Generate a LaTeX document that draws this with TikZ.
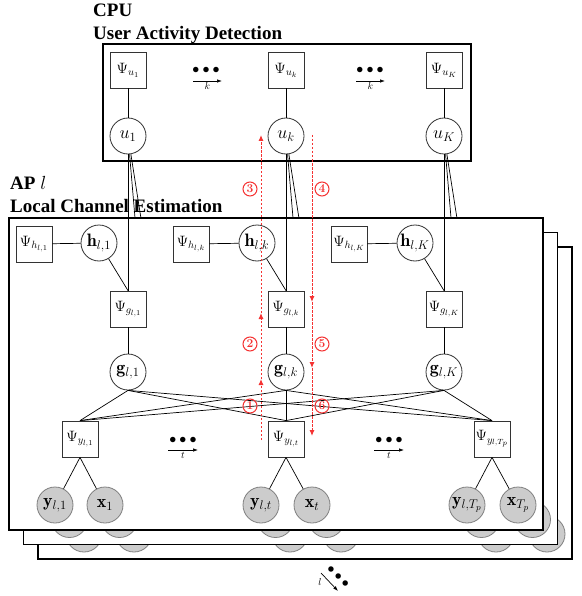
\RequirePackage{fix-cm}
\documentclass[tikz,border=0pt]{standalone}
\usepackage{amsmath}
\usepackage{amssymb}
\usepackage{fontspec}
\newfontfamily\headfont{Liberation Serif}
\usetikzlibrary{arrows.meta}
\definecolor{flowred}{RGB}{245,50,50}

\tikzset{
  facnode/.style={draw=black!80, line width=0.8pt, minimum size=36pt, inner sep=0pt, font=\fontsize{15}{17}\selectfont},
  varnode/.style={circle, draw=black!80, line width=0.8pt, minimum size=36pt, inner sep=0pt, font=\fontsize{18}{20}\selectfont},
  obsnode/.style={varnode, fill=black!20, draw=black!50},
  apbox/.style={draw, line width=1.6pt, fill=white},
  heading/.style={anchor=base west, inner sep=0pt, font=\headfont\bfseries\fontsize{19}{22}\selectfont},
  link/.style={line width=0.7pt},
  ellip/.style={inner sep=0pt, font=\fontsize{14}{16}\selectfont},
  idxarrow/.style={-{Latex[length=5pt,width=3.5pt]}, line width=0.7pt},
  idxlabel/.style={inner sep=1.5pt, font=\fontsize{10}{12}\selectfont},
  flowarrow/.style={flowred, dash pattern=on 2.5pt off 1.5pt, line width=1pt, -{Latex[length=6pt,width=5pt]}},
  stepno/.style={circle, draw=flowred, text=flowred, line width=1pt, minimum size=14pt, inner sep=0pt, font=\fontsize{12}{13}\selectfont\bfseries},
}

\begin{document}
\begin{tikzpicture}[x=1pt, y=-1pt]
    \useasboundingbox (0,0) rectangle (581,596);

    % Titles
    \node[heading] (cpu) at (93,17) {CPU};
    \node[heading] (uad) at (93,40) {User Activity Detection};
    \node[heading] (ap) at (10,189) {AP $l$};
    \node[heading] (lce) at (10,212) {Local Channel Estimation};

    % CPU: user activity detection
    \draw[apbox] (103,44) rectangle (471,161);
    \node[facnode] (Pu1) at (128,70) {$\Psi_{u_1}$};
    \node[facnode] (Puk) at (286,70) {$\Psi_{u_k}$};
    \node[facnode] (PuK) at (444,70) {$\Psi_{u_K}$};
    \node[varnode] (u1) at (128,136) {$u_1$};
    \node[varnode] (uk) at (286,136) {$u_k$};
    \node[varnode] (uK) at (444,136) {$u_K$};
    \draw[link] (Pu1) -- (u1);
    \draw[link] (Puk) -- (uk);
    \draw[link] (PuK) -- (uK);

    % Index k
    \node[ellip] (dk1) at (206,70) {$\bullet\bullet\bullet$};
    \node[ellip] (dk2) at (370,70) {$\bullet\bullet\bullet$};
    \coordinate (ka1) at (193,81);
    \coordinate (kb1) at (222,81);
    \coordinate (ka2) at (356,81);
    \coordinate (kb2) at (385,81);
    \draw[idxarrow] (ka1) -- (kb1) node[midway, below, idxlabel] {$k$};
    \draw[idxarrow] (ka2) -- (kb2) node[midway, below, idxlabel] {$k$};

    % Third AP layer (back)
    \draw[apbox] (38,247) rectangle (572,559);
    \node[obsnode] (y1c) at (84,534) {};
    \node[obsnode] (x1c) at (134,534) {};
    \node[obsnode] (ytc) at (290,534) {};
    \node[obsnode] (xtc) at (341,534) {};
    \node[obsnode] (yTc) at (496,534) {};
    \node[obsnode] (xTc) at (547,534) {};
    \coordinate (Pg1c) at (157,320);
    \coordinate (Pgkc) at (315,320);
    \coordinate (PgKc) at (473,320);

    % Second AP layer
    \draw[apbox] (23.5,232.5) rectangle (557.5,544.5);
    \node[obsnode] (y1b) at (69.5,519.5) {};
    \node[obsnode] (x1b) at (119.5,519.5) {};
    \node[obsnode] (ytb) at (275.5,519.5) {};
    \node[obsnode] (xtb) at (326.5,519.5) {};
    \node[obsnode] (yTb) at (481.5,519.5) {};
    \node[obsnode] (xTb) at (532.5,519.5) {};
    \coordinate (Pg1b) at (142.5,305.5);
    \coordinate (Pgkb) at (300.5,305.5);
    \coordinate (PgKb) at (458.5,305.5);

    % Activity variables to the hidden layers
    \draw[link] (u1) -- (Pg1b);
    \draw[link] (u1) -- (Pg1c);
    \draw[link] (uk) -- (Pgkb);
    \draw[link] (uk) -- (Pgkc);
    \draw[link] (uK) -- (PgKb);
    \draw[link] (uK) -- (PgKc);

    % Front AP layer: local channel estimation
    \draw[apbox] (9,218) rectangle (543,530);
    \node[facnode] (Ph1) at (34,244) {$\Psi_{h_{l,1}}$};
    \node[facnode] (Phk) at (191,244) {$\Psi_{h_{l,k}}$};
    \node[facnode] (PhK) at (349,244) {$\Psi_{h_{l,K}}$};
    \node[varnode] (h1) at (99,243) {$\mathbf{h}_{l,1}$};
    \node[varnode] (hk) at (257,243) {$\mathbf{h}_{l,k}$};
    \node[varnode] (hK) at (415,243) {$\mathbf{h}_{l,K}$};
    \node[facnode] (Pg1) at (128,309) {$\Psi_{g_{l,1}}$};
    \node[facnode] (Pgk) at (286,309) {$\Psi_{g_{l,k}}$};
    \node[facnode] (PgK) at (444,309) {$\Psi_{g_{l,K}}$};
    \node[varnode] (g1) at (128,372) {$\mathbf{g}_{l,1}$};
    \node[varnode] (gk) at (286,372) {$\mathbf{g}_{l,k}$};
    \node[varnode] (gK) at (444,372) {$\mathbf{g}_{l,K}$};
    \node[facnode] (Py1) at (80,439) {$\Psi_{y_{l,1}}$};
    \node[facnode] (Pyt) at (286,439) {$\Psi_{y_{l,t}}$};
    \node[facnode] (PyT) at (492,439) {$\Psi_{y_{l,T_p}}$};
    \node[obsnode] (y1) at (55,505) {$\mathbf{y}_{l,1}$};
    \node[obsnode] (x1) at (105,505) {$\mathbf{x}_1$};
    \node[obsnode] (yt) at (261,505) {$\mathbf{y}_{l,t}$};
    \node[obsnode] (xt) at (312,505) {$\mathbf{x}_t$};
    \node[obsnode] (yT) at (467,505) {$\mathbf{y}_{l,T_p}$};
    \node[obsnode] (xT) at (518,505) {$\mathbf{x}_{T_p}$};

    % Activity variables to the front layer
    \draw[link] (u1) -- (Pg1.north);
    \draw[link] (uk) -- (Pgk.north);
    \draw[link] (uK) -- (PgK.north);

    % Channel priors
    \draw[link] (Ph1) -- (h1);
    \draw[link] (Phk) -- (hk);
    \draw[link] (PhK) -- (hK);
    \draw[link] (h1) -- (Pg1.north);
    \draw[link] (hk) -- (Pgk.north);
    \draw[link] (hK) -- (PgK.north);
    \draw[link] (Pg1) -- (g1);
    \draw[link] (Pgk) -- (gk);
    \draw[link] (PgK) -- (gK);

    % Effective channels to pilot observations
    \draw[link] (g1.south) -- (Py1.north);
    \draw[link] (g1.south) -- (Pyt.north);
    \draw[link] (g1.south) -- (PyT.north);
    \draw[link] (gk.south) -- (Py1.north);
    \draw[link] (gk.south) -- (Pyt.north);
    \draw[link] (gk.south) -- (PyT.north);
    \draw[link] (gK.south) -- (Py1.north);
    \draw[link] (gK.south) -- (Pyt.north);
    \draw[link] (gK.south) -- (PyT.north);

    % Observations
    \draw[link] (Py1.south) -- (y1);
    \draw[link] (Py1.south) -- (x1);
    \draw[link] (Pyt.south) -- (yt);
    \draw[link] (Pyt.south) -- (xt);
    \draw[link] (PyT.south) -- (yT);
    \draw[link] (PyT.south) -- (xT);

    % Index t
    \node[ellip] (dt1) at (183,440) {$\bullet\bullet\bullet$};
    \node[ellip] (dt2) at (389,440) {$\bullet\bullet\bullet$};
    \coordinate (ta1) at (168,450);
    \coordinate (tb1) at (198,450);
    \coordinate (ta2) at (374,450);
    \coordinate (tb2) at (404,450);
    \draw[idxarrow] (ta1) -- (tb1) node[midway, below, idxlabel] {$t$};
    \draw[idxarrow] (ta2) -- (tb2) node[midway, below, idxlabel] {$t$};

    % Index l
    \node[ellip, rotate=-45] (dl) at (338,577) {$\bullet\bullet\bullet$};
    \coordinate (la) at (321,573);
    \coordinate (lb) at (338,591);
    \draw[idxarrow] (la) -- (lb) node[midway, left=6pt, idxlabel] {$l$};

    % Message passing schedule
    \coordinate (up0) at (261,440);
    \coordinate (up1) at (261,379);
    \coordinate (up2) at (261,313);
    \coordinate (up3) at (261,135);
    \coordinate (dn0) at (312,135);
    \coordinate (dn1) at (312,302);
    \coordinate (dn2) at (312,368);
    \coordinate (dn3) at (312,436);
    \draw[flowarrow] (up0) -- (up1);
    \draw[flowarrow] (up1) -- (up2);
    \draw[flowarrow] (up2) -- (up3);
    \draw[flowarrow] (dn0) -- (dn1);
    \draw[flowarrow] (dn1) -- (dn2);
    \draw[flowarrow] (dn2) -- (dn3);
    \node[stepno] (s1) at (250,406) {1};
    \node[stepno] (s2) at (250,344) {2};
    \node[stepno] (s3) at (250,189) {3};
    \node[stepno] (s4) at (322,189) {4};
    \node[stepno] (s5) at (322,344) {5};
    \node[stepno] (s6) at (322,406) {6};
\end{tikzpicture}
\end{document}
